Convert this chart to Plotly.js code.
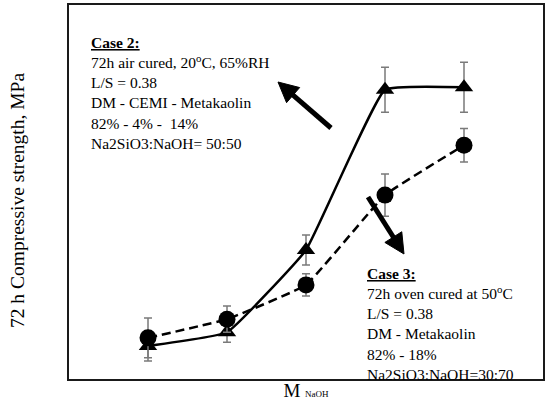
<!DOCTYPE html>
<html>
<head>
<meta charset="utf-8">
<script src="https://cdn.plot.ly/plotly-3.0.1.min.js"></script>
<style>html,body{margin:0;padding:0;background:#fff;}#chart{width:550px;height:407px;}</style>
</head>
<body>
<div id="chart"></div>
<script>
// Data (MPa scale assumed)
const molarity = [1, 2, 3, 4, 5];
const case2Strength = [5.3, 7.5, 20.7, 46.4, 46.8];
const case2Error = [2.4, 1.6, 2.4, 3.6, 4.0];
const case3Strength = [6.6, 9.6, 15.1, 29.5, 37.5];
const case3Error = [3.2, 2.1, 1.8, 3.4, 2.7];

const FONT = "Liberation Serif, 'DejaVu Serif', serif";

// plot-area geometry (for annotation placement only)
const M = {l: 69, r: 7, t: 5, b: 28};
const W = 550, H = 407;
const PW = W - M.l - M.r, PH = H - M.t - M.b;
const px = v => (v - M.l) / PW;
const py = v => (H - M.b - v) / PH;

function arrowShapes(tail, tip, headLen, headHalf, width) {
  const dx = tip[0] - tail[0], dy = tip[1] - tail[1];
  const L = Math.hypot(dx, dy);
  const ux = dx / L, uy = dy / L;
  const nx = -uy, ny = ux;
  const base = [tip[0] - headLen * ux, tip[1] - headLen * uy];
  const c1 = [base[0] + headHalf * nx, base[1] + headHalf * ny];
  const c2 = [base[0] - headHalf * nx, base[1] - headHalf * ny];
  const shaftEnd = [tip[0] - (headLen - 2) * ux, tip[1] - (headLen - 2) * uy];
  return [
    {type: 'line', xref: 'paper', yref: 'paper',
     x0: px(tail[0]), y0: py(tail[1]), x1: px(shaftEnd[0]), y1: py(shaftEnd[1]),
     line: {color: '#000', width: width}},
    {type: 'path', xref: 'paper', yref: 'paper',
     path: `M ${px(tip[0])} ${py(tip[1])} L ${px(c1[0])} ${py(c1[1])} L ${px(c2[0])} ${py(c2[1])} Z`,
     fillcolor: '#000', line: {color: '#000', width: 1}}
  ];
}

const traces = [
  {
    x: molarity, y: case2Strength, type: 'scatter', mode: 'lines+markers',
    line: {color: '#000', width: 2.5, shape: 'spline', smoothing: 0.3},
    marker: {symbol: 'triangle-up', size: 16, color: '#000'},
    error_y: {type: 'data', array: case2Error, visible: true, color: '#7a7a7a', thickness: 1.5, width: 4},
    showlegend: false, hoverinfo: 'skip'
  },
  {
    x: molarity, y: case3Strength, type: 'scatter', mode: 'lines+markers',
    line: {color: '#000', width: 2.5, dash: '9px,5px', shape: 'spline', smoothing: 0.3},
    marker: {symbol: 'circle', size: 17, color: '#000'},
    error_y: {type: 'data', array: case3Error, visible: true, color: '#7a7a7a', thickness: 1.5, width: 4},
    showlegend: false, hoverinfo: 'skip'
  }
];

const case2Text = "<b><u>Case 2:</u></b><br>72h air cured, 20<sup>o</sup>C, 65%RH<br>L/S = 0.38<br>DM - CEMI - Metakaolin<br>82% - 4% -  14%<br>Na2SiO3:NaOH= 50:50";
const case3Text = "<b><u>Case 3:</u></b><br>72h oven cured at 50<sup>o</sup>C<br>L/S = 0.38<br>DM - Metakaolin<br>82% - 18%<br>Na2SiO3:NaOH=30:70";
const yTitle = "72 h Compressive strength, MPa";

const layout = {
  width: W, height: H,
  margin: M,
  paper_bgcolor: '#fff', plot_bgcolor: '#fff',
  font: {family: FONT, color: '#000', size: 15},
  xaxis: {
    range: [0, 6], showticklabels: false, ticks: '', showgrid: false, zeroline: false,
    showline: true, mirror: true, linecolor: '#1a1a1a', linewidth: 2,
    title: {text: "M <span style='font-size:9px'>NaOH</span>", font: {size: 19, family: FONT}, standoff: 4}
  },
  yaxis: {
    range: [0, 60], showticklabels: false, ticks: '', showgrid: false, zeroline: false,
    showline: true, mirror: true, linecolor: '#1a1a1a', linewidth: 2
  },
  annotations: [
    {xref: 'paper', yref: 'paper', x: px(17), y: py(201), xanchor: 'center', yanchor: 'middle',
     text: yTitle, textangle: -90, showarrow: false, font: {size: 19.5, family: FONT}},
    {xref: 'paper', yref: 'paper', x: px(89), y: py(32), xanchor: 'left', yanchor: 'top',
     text: case2Text, showarrow: false, align: 'left', font: {size: 15.5, family: FONT}},
    {xref: 'paper', yref: 'paper', x: px(365), y: py(263), xanchor: 'left', yanchor: 'top',
     text: case3Text, showarrow: false, align: 'left', font: {size: 15.5, family: FONT}}
  ],
  shapes: [].concat(
    arrowShapes([331, 128], [278, 82], 20, 10, 5),
    arrowShapes([368, 197], [404, 254], 20, 10, 5)
  )
};

Plotly.newPlot('chart', traces, layout, {staticPlot: true, displayModeBar: false});
</script>
</body>
</html>
